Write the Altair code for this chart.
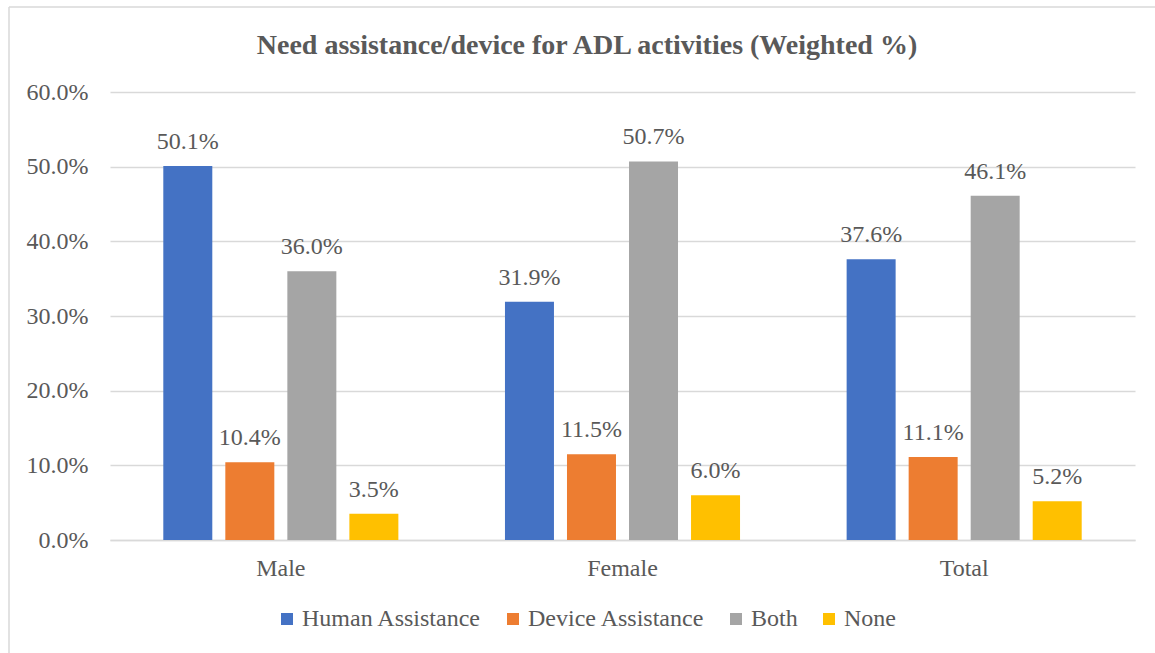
import altair as alt
import pandas as pd

groups = ["Male", "Female", "Total"]
series = ["Human Assistance", "Device Assistance", "Both", "None"]
human = [50.1, 31.9, 37.6]
device = [10.4, 11.5, 11.1]
both = [36.0, 50.7, 46.1]
none_ = [3.5, 6.0, 5.2]
colors = ["#4472C4", "#ED7D31", "#A5A5A5", "#FFC000"]
y_ticks = [0, 0.1, 0.2, 0.3, 0.4, 0.5, 0.6]
title_text = "Need assistance/device for ADL activities (Weighted %)"

rows = []
for s, vals in zip(series, [human, device, both, none_]):
    for g, v in zip(groups, vals):
        rows.append({"group": g, "series": s, "value": v / 100.0})
df = pd.DataFrame(rows)

FONT = "Liberation Serif"
TXT = "#595959"
GRID = "#D9D9D9"
FS = 24

x_enc = alt.X("group:N", sort=groups, title=None,
              scale=alt.Scale(paddingInner=0.312, paddingOuter=0.156),
              axis=alt.Axis(labelAngle=0, ticks=False, domainColor=GRID, domainWidth=1.5,
                            labelFont=FONT, labelFontSize=FS, labelColor=TXT, labelPadding=16))
xo_enc = alt.XOffset("series:N", sort=series,
                     scale=alt.Scale(paddingInner=0.21, paddingOuter=0))
y_enc = alt.Y("value:Q", title=None,
              scale=alt.Scale(domain=[0, 0.6], nice=False),
              axis=alt.Axis(values=y_ticks, format=".1%", ticks=False, domain=False,
                            gridColor=GRID, gridWidth=1.5, labelFont=FONT, labelFontSize=FS,
                            labelColor=TXT, labelPadding=22))

bars = alt.Chart(df).mark_bar().encode(
    x=x_enc, xOffset=xo_enc, y=y_enc,
    color=alt.Color("series:N", sort=series,
                    scale=alt.Scale(domain=series, range=colors),
                    legend=alt.Legend(title=None, orient="none", direction="horizontal",
                                      legendX=165, legendY=515, symbolType="square",
                                      symbolSize=144, symbolStrokeWidth=0,
                                      labelFont=FONT, labelFontSize=FS, labelColor=TXT,
                                      labelLimit=0, labelOffset=3, columnPadding=19)),
)

labels = alt.Chart(df).mark_text(font=FONT, fontSize=FS, color=TXT,
                                 baseline="alphabetic", dy=-17).encode(
    x=alt.X("group:N", sort=groups), xOffset=alt.XOffset("series:N", sort=series),
    y="value:Q", text=alt.Text("value:Q", format=".1%"),
)

frame_data = alt.Data(values=[{}])
title_mark = alt.Chart(frame_data).mark_text(
    text=title_text, font=FONT, fontSize=28, fontWeight="bold", color=TXT,
    baseline="middle", align="center").encode(x=alt.value(477), y=alt.value(-46))
left_line = alt.Chart(frame_data).mark_rule(color=GRID, strokeWidth=1.5).encode(
    x=alt.value(-101), y=alt.value(-85), y2=alt.value(600))
top_line = alt.Chart(frame_data).mark_rule(color=GRID, strokeWidth=1.5).encode(
    x=alt.value(-101), x2=alt.value(1060), y=alt.value(-85))

chart = alt.layer(bars, labels, title_mark, left_line, top_line).properties(
    width=1025, height=448,
    autosize=alt.AutoSizeParams(type="none"),
    padding={"left": 110, "top": 92, "right": 20, "bottom": 113},
).configure_view(stroke=None)

chart.save("out.html", embed_options={"renderer": "svg", "actions": False})
